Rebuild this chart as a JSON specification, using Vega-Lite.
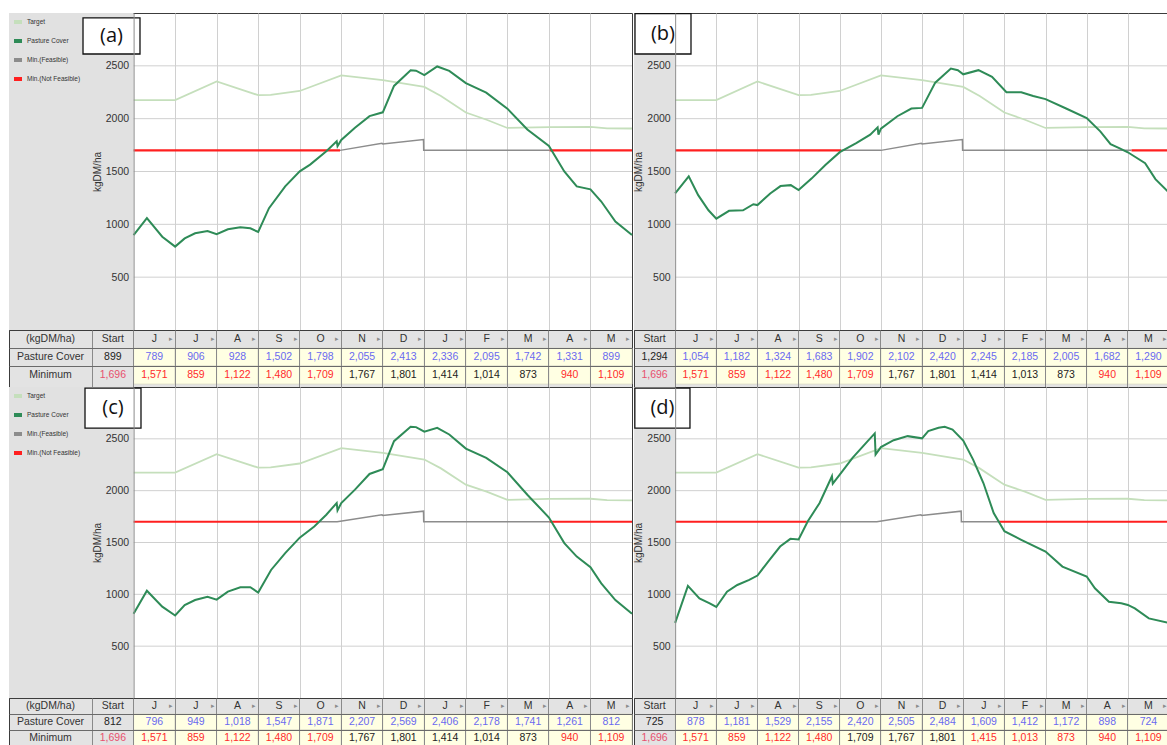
{
"$schema": "https://vega.github.io/schema/vega-lite/v6.json",
"padding": {"left": 8, "top": 12, "right": 0, "bottom": 0},
"background": "white",
"columns": 2,
"spacing": {"row": 0, "column": 2},
"bounds": "flush",
"resolve": {"scale": {"color": "independent"}, "legend": {"color": "independent"}},
"config": {"font": "Liberation Sans", "view": {"stroke": "#3c3c3c", "strokeWidth": 1}},
"datasets": {
"ygrid": [{"g":500},{"g":1000},{"g":1500},{"g":2000},{"g":2500}],
"target": [
{"s":"Target","m":0,"v":2175},{"s":"Target","m":1,"v":2175},{"s":"Target","m":2,"v":2352},{"s":"Target","m":3,"v":2222},{"s":"Target","m":3.3,"v":2225},{"s":"Target","m":4,"v":2262},{"s":"Target","m":5,"v":2410},{"s":"Target","m":6,"v":2365},{"s":"Target","m":7,"v":2300},{"s":"Target","m":7.4,"v":2215},{"s":"Target","m":8,"v":2058},{"s":"Target","m":8.5,"v":1990},{"s":"Target","m":9,"v":1912},{"s":"Target","m":10,"v":1920},{"s":"Target","m":11,"v":1922},{"s":"Target","m":11.4,"v":1908},{"s":"Target","m":12,"v":1907}],
"lines": [
{"p":"a","s":"Pasture Cover","g":"pc","m":0,"v":899},{"p":"a","s":"Pasture Cover","g":"pc","m":0.32,"v":1058},{"p":"a","s":"Pasture Cover","g":"pc","m":0.69,"v":883},{"p":"a","s":"Pasture Cover","g":"pc","m":1,"v":789},{"p":"a","s":"Pasture Cover","g":"pc","m":1.23,"v":867},{"p":"a","s":"Pasture Cover","g":"pc","m":1.48,"v":915},{"p":"a","s":"Pasture Cover","g":"pc","m":1.78,"v":937},{"p":"a","s":"Pasture Cover","g":"pc","m":2,"v":906},{"p":"a","s":"Pasture Cover","g":"pc","m":2.27,"v":953},{"p":"a","s":"Pasture Cover","g":"pc","m":2.57,"v":972},{"p":"a","s":"Pasture Cover","g":"pc","m":2.81,"v":962},{"p":"a","s":"Pasture Cover","g":"pc","m":3,"v":928},{"p":"a","s":"Pasture Cover","g":"pc","m":3.26,"v":1153},{"p":"a","s":"Pasture Cover","g":"pc","m":3.65,"v":1359},{"p":"a","s":"Pasture Cover","g":"pc","m":4,"v":1502},{"p":"a","s":"Pasture Cover","g":"pc","m":4.25,"v":1565},{"p":"a","s":"Pasture Cover","g":"pc","m":4.64,"v":1692},{"p":"a","s":"Pasture Cover","g":"pc","m":4.89,"v":1787},{"p":"a","s":"Pasture Cover","g":"pc","m":4.91,"v":1739},{"p":"a","s":"Pasture Cover","g":"pc","m":5,"v":1798},{"p":"a","s":"Pasture Cover","g":"pc","m":5.33,"v":1914},{"p":"a","s":"Pasture Cover","g":"pc","m":5.68,"v":2024},{"p":"a","s":"Pasture Cover","g":"pc","m":6,"v":2060},{"p":"a","s":"Pasture Cover","g":"pc","m":6.27,"v":2310},{"p":"a","s":"Pasture Cover","g":"pc","m":6.67,"v":2459},{"p":"a","s":"Pasture Cover","g":"pc","m":6.8,"v":2454},{"p":"a","s":"Pasture Cover","g":"pc","m":7,"v":2413},{"p":"a","s":"Pasture Cover","g":"pc","m":7.31,"v":2494},{"p":"a","s":"Pasture Cover","g":"pc","m":7.6,"v":2452},{"p":"a","s":"Pasture Cover","g":"pc","m":8,"v":2336},{"p":"a","s":"Pasture Cover","g":"pc","m":8.49,"v":2246},{"p":"a","s":"Pasture Cover","g":"pc","m":9,"v":2095},{"p":"a","s":"Pasture Cover","g":"pc","m":9.48,"v":1898},{"p":"a","s":"Pasture Cover","g":"pc","m":10,"v":1742},{"p":"a","s":"Pasture Cover","g":"pc","m":10.37,"v":1501},{"p":"a","s":"Pasture Cover","g":"pc","m":10.67,"v":1359},{"p":"a","s":"Pasture Cover","g":"pc","m":11,"v":1331},{"p":"a","s":"Pasture Cover","g":"pc","m":11.26,"v":1216},{"p":"a","s":"Pasture Cover","g":"pc","m":11.6,"v":1026},{"p":"a","s":"Pasture Cover","g":"pc","m":12,"v":899},
{"p":"a","s":"Min.(Not Feasible)","g":"n1","m":0,"v":1700},{"p":"a","s":"Min.(Not Feasible)","g":"n1","m":4.97,"v":1700},
{"p":"a","s":"Min.(Feasible)","g":"f1","m":4.97,"v":1700},{"p":"a","s":"Min.(Feasible)","g":"f1","m":5.98,"v":1767},{"p":"a","s":"Min.(Feasible)","g":"f1","m":6,"v":1761},{"p":"a","s":"Min.(Feasible)","g":"f1","m":6.98,"v":1802},{"p":"a","s":"Min.(Feasible)","g":"f1","m":6.985,"v":1700},{"p":"a","s":"Min.(Feasible)","g":"f1","m":10.02,"v":1700},
{"p":"a","s":"Min.(Not Feasible)","g":"n2","m":10.02,"v":1700},{"p":"a","s":"Min.(Not Feasible)","g":"n2","m":12,"v":1700},

{"p":"b","s":"Pasture Cover","g":"pc","m":0,"v":1294},{"p":"b","s":"Pasture Cover","g":"pc","m":0.33,"v":1455},{"p":"b","s":"Pasture Cover","g":"pc","m":0.56,"v":1276},{"p":"b","s":"Pasture Cover","g":"pc","m":0.81,"v":1133},{"p":"b","s":"Pasture Cover","g":"pc","m":1,"v":1054},{"p":"b","s":"Pasture Cover","g":"pc","m":1.31,"v":1128},{"p":"b","s":"Pasture Cover","g":"pc","m":1.65,"v":1133},{"p":"b","s":"Pasture Cover","g":"pc","m":1.9,"v":1190},{"p":"b","s":"Pasture Cover","g":"pc","m":2,"v":1182},{"p":"b","s":"Pasture Cover","g":"pc","m":2.31,"v":1292},{"p":"b","s":"Pasture Cover","g":"pc","m":2.56,"v":1362},{"p":"b","s":"Pasture Cover","g":"pc","m":2.81,"v":1371},{"p":"b","s":"Pasture Cover","g":"pc","m":3,"v":1324},{"p":"b","s":"Pasture Cover","g":"pc","m":3.32,"v":1435},{"p":"b","s":"Pasture Cover","g":"pc","m":3.65,"v":1562},{"p":"b","s":"Pasture Cover","g":"pc","m":4,"v":1683},{"p":"b","s":"Pasture Cover","g":"pc","m":4.4,"v":1769},{"p":"b","s":"Pasture Cover","g":"pc","m":4.74,"v":1848},{"p":"b","s":"Pasture Cover","g":"pc","m":4.92,"v":1918},{"p":"b","s":"Pasture Cover","g":"pc","m":4.94,"v":1848},{"p":"b","s":"Pasture Cover","g":"pc","m":5,"v":1905},{"p":"b","s":"Pasture Cover","g":"pc","m":5.4,"v":2023},{"p":"b","s":"Pasture Cover","g":"pc","m":5.74,"v":2096},{"p":"b","s":"Pasture Cover","g":"pc","m":6,"v":2102},{"p":"b","s":"Pasture Cover","g":"pc","m":6.32,"v":2341},{"p":"b","s":"Pasture Cover","g":"pc","m":6.7,"v":2475},{"p":"b","s":"Pasture Cover","g":"pc","m":6.87,"v":2459},{"p":"b","s":"Pasture Cover","g":"pc","m":7,"v":2420},{"p":"b","s":"Pasture Cover","g":"pc","m":7.37,"v":2459},{"p":"b","s":"Pasture Cover","g":"pc","m":7.7,"v":2395},{"p":"b","s":"Pasture Cover","g":"pc","m":8.05,"v":2250},{"p":"b","s":"Pasture Cover","g":"pc","m":8.41,"v":2250},{"p":"b","s":"Pasture Cover","g":"pc","m":8.7,"v":2214},{"p":"b","s":"Pasture Cover","g":"pc","m":9,"v":2185},{"p":"b","s":"Pasture Cover","g":"pc","m":9.5,"v":2096},{"p":"b","s":"Pasture Cover","g":"pc","m":10,"v":2005},{"p":"b","s":"Pasture Cover","g":"pc","m":10.33,"v":1880},{"p":"b","s":"Pasture Cover","g":"pc","m":10.58,"v":1759},{"p":"b","s":"Pasture Cover","g":"pc","m":10.79,"v":1721},{"p":"b","s":"Pasture Cover","g":"pc","m":11,"v":1682},{"p":"b","s":"Pasture Cover","g":"pc","m":11.42,"v":1578},{"p":"b","s":"Pasture Cover","g":"pc","m":11.67,"v":1428},{"p":"b","s":"Pasture Cover","g":"pc","m":12,"v":1300},
{"p":"b","s":"Min.(Not Feasible)","g":"n1","m":0,"v":1700},{"p":"b","s":"Min.(Not Feasible)","g":"n1","m":4.03,"v":1700},
{"p":"b","s":"Min.(Feasible)","g":"f1","m":4.03,"v":1700},{"p":"b","s":"Min.(Feasible)","g":"f1","m":5,"v":1700},{"p":"b","s":"Min.(Feasible)","g":"f1","m":5.98,"v":1767},{"p":"b","s":"Min.(Feasible)","g":"f1","m":6,"v":1761},{"p":"b","s":"Min.(Feasible)","g":"f1","m":6.98,"v":1802},{"p":"b","s":"Min.(Feasible)","g":"f1","m":6.985,"v":1700},{"p":"b","s":"Min.(Feasible)","g":"f1","m":11.09,"v":1700},
{"p":"b","s":"Min.(Not Feasible)","g":"n2","m":11.09,"v":1700},{"p":"b","s":"Min.(Not Feasible)","g":"n2","m":12,"v":1700},

{"p":"c","s":"Pasture Cover","g":"pc","m":0,"v":812},{"p":"c","s":"Pasture Cover","g":"pc","m":0.32,"v":1035},{"p":"c","s":"Pasture Cover","g":"pc","m":0.69,"v":881},{"p":"c","s":"Pasture Cover","g":"pc","m":1,"v":796},{"p":"c","s":"Pasture Cover","g":"pc","m":1.23,"v":897},{"p":"c","s":"Pasture Cover","g":"pc","m":1.48,"v":945},{"p":"c","s":"Pasture Cover","g":"pc","m":1.78,"v":977},{"p":"c","s":"Pasture Cover","g":"pc","m":2,"v":949},{"p":"c","s":"Pasture Cover","g":"pc","m":2.27,"v":1026},{"p":"c","s":"Pasture Cover","g":"pc","m":2.57,"v":1068},{"p":"c","s":"Pasture Cover","g":"pc","m":2.81,"v":1068},{"p":"c","s":"Pasture Cover","g":"pc","m":3,"v":1018},{"p":"c","s":"Pasture Cover","g":"pc","m":3.31,"v":1235},{"p":"c","s":"Pasture Cover","g":"pc","m":3.65,"v":1397},{"p":"c","s":"Pasture Cover","g":"pc","m":4,"v":1547},{"p":"c","s":"Pasture Cover","g":"pc","m":4.35,"v":1655},{"p":"c","s":"Pasture Cover","g":"pc","m":4.64,"v":1768},{"p":"c","s":"Pasture Cover","g":"pc","m":4.89,"v":1881},{"p":"c","s":"Pasture Cover","g":"pc","m":4.91,"v":1810},{"p":"c","s":"Pasture Cover","g":"pc","m":5,"v":1880},{"p":"c","s":"Pasture Cover","g":"pc","m":5.33,"v":2010},{"p":"c","s":"Pasture Cover","g":"pc","m":5.68,"v":2161},{"p":"c","s":"Pasture Cover","g":"pc","m":6,"v":2207},{"p":"c","s":"Pasture Cover","g":"pc","m":6.27,"v":2477},{"p":"c","s":"Pasture Cover","g":"pc","m":6.67,"v":2616},{"p":"c","s":"Pasture Cover","g":"pc","m":6.8,"v":2613},{"p":"c","s":"Pasture Cover","g":"pc","m":7,"v":2569},{"p":"c","s":"Pasture Cover","g":"pc","m":7.31,"v":2606},{"p":"c","s":"Pasture Cover","g":"pc","m":7.6,"v":2542},{"p":"c","s":"Pasture Cover","g":"pc","m":8,"v":2406},{"p":"c","s":"Pasture Cover","g":"pc","m":8.49,"v":2316},{"p":"c","s":"Pasture Cover","g":"pc","m":9,"v":2178},{"p":"c","s":"Pasture Cover","g":"pc","m":9.48,"v":1961},{"p":"c","s":"Pasture Cover","g":"pc","m":10,"v":1741},{"p":"c","s":"Pasture Cover","g":"pc","m":10.37,"v":1494},{"p":"c","s":"Pasture Cover","g":"pc","m":10.67,"v":1364},{"p":"c","s":"Pasture Cover","g":"pc","m":11,"v":1261},{"p":"c","s":"Pasture Cover","g":"pc","m":11.26,"v":1106},{"p":"c","s":"Pasture Cover","g":"pc","m":11.6,"v":945},{"p":"c","s":"Pasture Cover","g":"pc","m":12,"v":812},
{"p":"c","s":"Min.(Not Feasible)","g":"n1","m":0,"v":1700},{"p":"c","s":"Min.(Not Feasible)","g":"n1","m":4.45,"v":1700},
{"p":"c","s":"Min.(Feasible)","g":"f1","m":4.45,"v":1700},{"p":"c","s":"Min.(Feasible)","g":"f1","m":4.9,"v":1700},{"p":"c","s":"Min.(Feasible)","g":"f1","m":5.98,"v":1767},{"p":"c","s":"Min.(Feasible)","g":"f1","m":6,"v":1761},{"p":"c","s":"Min.(Feasible)","g":"f1","m":6.98,"v":1802},{"p":"c","s":"Min.(Feasible)","g":"f1","m":6.985,"v":1700},{"p":"c","s":"Min.(Feasible)","g":"f1","m":10.02,"v":1700},
{"p":"c","s":"Min.(Not Feasible)","g":"n2","m":10.02,"v":1700},{"p":"c","s":"Min.(Not Feasible)","g":"n2","m":12,"v":1700},

{"p":"d","s":"Pasture Cover","g":"pc","m":0,"v":725},{"p":"d","s":"Pasture Cover","g":"pc","m":0.31,"v":1081},{"p":"d","s":"Pasture Cover","g":"pc","m":0.59,"v":961},{"p":"d","s":"Pasture Cover","g":"pc","m":0.84,"v":913},{"p":"d","s":"Pasture Cover","g":"pc","m":1,"v":878},{"p":"d","s":"Pasture Cover","g":"pc","m":1.26,"v":1026},{"p":"d","s":"Pasture Cover","g":"pc","m":1.51,"v":1090},{"p":"d","s":"Pasture Cover","g":"pc","m":1.8,"v":1139},{"p":"d","s":"Pasture Cover","g":"pc","m":2,"v":1181},{"p":"d","s":"Pasture Cover","g":"pc","m":2.26,"v":1316},{"p":"d","s":"Pasture Cover","g":"pc","m":2.55,"v":1461},{"p":"d","s":"Pasture Cover","g":"pc","m":2.8,"v":1535},{"p":"d","s":"Pasture Cover","g":"pc","m":3,"v":1529},{"p":"d","s":"Pasture Cover","g":"pc","m":3.22,"v":1703},{"p":"d","s":"Pasture Cover","g":"pc","m":3.51,"v":1881},{"p":"d","s":"Pasture Cover","g":"pc","m":3.81,"v":2139},{"p":"d","s":"Pasture Cover","g":"pc","m":3.83,"v":2068},{"p":"d","s":"Pasture Cover","g":"pc","m":4,"v":2155},{"p":"d","s":"Pasture Cover","g":"pc","m":4.31,"v":2316},{"p":"d","s":"Pasture Cover","g":"pc","m":4.64,"v":2461},{"p":"d","s":"Pasture Cover","g":"pc","m":4.85,"v":2552},{"p":"d","s":"Pasture Cover","g":"pc","m":4.87,"v":2348},{"p":"d","s":"Pasture Cover","g":"pc","m":5,"v":2420},{"p":"d","s":"Pasture Cover","g":"pc","m":5.31,"v":2487},{"p":"d","s":"Pasture Cover","g":"pc","m":5.65,"v":2526},{"p":"d","s":"Pasture Cover","g":"pc","m":6,"v":2505},{"p":"d","s":"Pasture Cover","g":"pc","m":6.15,"v":2574},{"p":"d","s":"Pasture Cover","g":"pc","m":6.4,"v":2606},{"p":"d","s":"Pasture Cover","g":"pc","m":6.55,"v":2616},{"p":"d","s":"Pasture Cover","g":"pc","m":6.74,"v":2590},{"p":"d","s":"Pasture Cover","g":"pc","m":7,"v":2484},{"p":"d","s":"Pasture Cover","g":"pc","m":7.24,"v":2300},{"p":"d","s":"Pasture Cover","g":"pc","m":7.49,"v":2074},{"p":"d","s":"Pasture Cover","g":"pc","m":7.74,"v":1784},{"p":"d","s":"Pasture Cover","g":"pc","m":8,"v":1609},{"p":"d","s":"Pasture Cover","g":"pc","m":8.41,"v":1526},{"p":"d","s":"Pasture Cover","g":"pc","m":9,"v":1412},{"p":"d","s":"Pasture Cover","g":"pc","m":9.41,"v":1268},{"p":"d","s":"Pasture Cover","g":"pc","m":10,"v":1172},{"p":"d","s":"Pasture Cover","g":"pc","m":10.2,"v":1058},{"p":"d","s":"Pasture Cover","g":"pc","m":10.54,"v":929},{"p":"d","s":"Pasture Cover","g":"pc","m":10.84,"v":913},{"p":"d","s":"Pasture Cover","g":"pc","m":11,"v":898},{"p":"d","s":"Pasture Cover","g":"pc","m":11.17,"v":864},{"p":"d","s":"Pasture Cover","g":"pc","m":11.51,"v":768},{"p":"d","s":"Pasture Cover","g":"pc","m":12,"v":724},
{"p":"d","s":"Min.(Not Feasible)","g":"n1","m":0,"v":1700},{"p":"d","s":"Min.(Not Feasible)","g":"n1","m":3.2,"v":1700},
{"p":"d","s":"Min.(Feasible)","g":"f1","m":3.2,"v":1700},{"p":"d","s":"Min.(Feasible)","g":"f1","m":4.9,"v":1700},{"p":"d","s":"Min.(Feasible)","g":"f1","m":5.97,"v":1767},{"p":"d","s":"Min.(Feasible)","g":"f1","m":5.99,"v":1761},{"p":"d","s":"Min.(Feasible)","g":"f1","m":6.95,"v":1802},{"p":"d","s":"Min.(Feasible)","g":"f1","m":6.955,"v":1700},{"p":"d","s":"Min.(Feasible)","g":"f1","m":7.87,"v":1700},
{"p":"d","s":"Min.(Not Feasible)","g":"n2","m":7.87,"v":1700},{"p":"d","s":"Min.(Not Feasible)","g":"n2","m":12,"v":1700}
],
"cells": [
{"p":"a","col":"S","pc":899,"min":1696,"ok":false},{"p":"a","col":"m1","pc":789,"min":1571,"ok":false},{"p":"a","col":"m2","pc":906,"min":859,"ok":false},{"p":"a","col":"m3","pc":928,"min":1122,"ok":false},{"p":"a","col":"m4","pc":1502,"min":1480,"ok":false},{"p":"a","col":"m5","pc":1798,"min":1709,"ok":false},{"p":"a","col":"m6","pc":2055,"min":1767,"ok":true},{"p":"a","col":"m7","pc":2413,"min":1801,"ok":true},{"p":"a","col":"m8","pc":2336,"min":1414,"ok":true},{"p":"a","col":"m9","pc":2095,"min":1014,"ok":true},{"p":"a","col":"m10","pc":1742,"min":873,"ok":true},{"p":"a","col":"m11","pc":1331,"min":940,"ok":false},{"p":"a","col":"m12","pc":899,"min":1109,"ok":false},
{"p":"b","col":"S","pc":1294,"min":1696,"ok":false},{"p":"b","col":"m1","pc":1054,"min":1571,"ok":false},{"p":"b","col":"m2","pc":1182,"min":859,"ok":false},{"p":"b","col":"m3","pc":1324,"min":1122,"ok":false},{"p":"b","col":"m4","pc":1683,"min":1480,"ok":false},{"p":"b","col":"m5","pc":1902,"min":1709,"ok":false},{"p":"b","col":"m6","pc":2102,"min":1767,"ok":true},{"p":"b","col":"m7","pc":2420,"min":1801,"ok":true},{"p":"b","col":"m8","pc":2245,"min":1414,"ok":true},{"p":"b","col":"m9","pc":2185,"min":1013,"ok":true},{"p":"b","col":"m10","pc":2005,"min":873,"ok":true},{"p":"b","col":"m11","pc":1682,"min":940,"ok":false},{"p":"b","col":"m12","pc":1290,"min":1109,"ok":false},
{"p":"c","col":"S","pc":812,"min":1696,"ok":false},{"p":"c","col":"m1","pc":796,"min":1571,"ok":false},{"p":"c","col":"m2","pc":949,"min":859,"ok":false},{"p":"c","col":"m3","pc":1018,"min":1122,"ok":false},{"p":"c","col":"m4","pc":1547,"min":1480,"ok":false},{"p":"c","col":"m5","pc":1871,"min":1709,"ok":false},{"p":"c","col":"m6","pc":2207,"min":1767,"ok":true},{"p":"c","col":"m7","pc":2569,"min":1801,"ok":true},{"p":"c","col":"m8","pc":2406,"min":1414,"ok":true},{"p":"c","col":"m9","pc":2178,"min":1014,"ok":true},{"p":"c","col":"m10","pc":1741,"min":873,"ok":true},{"p":"c","col":"m11","pc":1261,"min":940,"ok":false},{"p":"c","col":"m12","pc":812,"min":1109,"ok":false},
{"p":"d","col":"S","pc":725,"min":1696,"ok":false},{"p":"d","col":"m1","pc":878,"min":1571,"ok":false},{"p":"d","col":"m2","pc":1181,"min":859,"ok":false},{"p":"d","col":"m3","pc":1529,"min":1122,"ok":false},{"p":"d","col":"m4","pc":2155,"min":1480,"ok":false},{"p":"d","col":"m5","pc":2420,"min":1709,"ok":true},{"p":"d","col":"m6","pc":2505,"min":1767,"ok":true},{"p":"d","col":"m7","pc":2484,"min":1801,"ok":true},{"p":"d","col":"m8","pc":1609,"min":1415,"ok":false},{"p":"d","col":"m9","pc":1412,"min":1013,"ok":false},{"p":"d","col":"m10","pc":1172,"min":873,"ok":false},{"p":"d","col":"m11","pc":898,"min":940,"ok":false},{"p":"d","col":"m12","pc":724,"min":1109,"ok":false}
],
"hdr": [{"col":"S","r":"h","t":"Start"},{"col":"m1","r":"h","t":"J"},{"col":"m2","r":"h","t":"J"},{"col":"m3","r":"h","t":"A"},{"col":"m4","r":"h","t":"S"},{"col":"m5","r":"h","t":"O"},{"col":"m6","r":"h","t":"N"},{"col":"m7","r":"h","t":"D"},{"col":"m8","r":"h","t":"J"},{"col":"m9","r":"h","t":"F"},{"col":"m10","r":"h","t":"M"},{"col":"m11","r":"h","t":"A"},{"col":"m12","r":"h","t":"M"}],
"rowlab": [{"col":"L2","r":"h","t":"(kgDM/ha)"},{"col":"L2","r":"pc","t":"Pasture Cover"},{"col":"L2","r":"min","t":"Minimum"}]
},
"concat": [
{
"width": 623, "height": 317,
"view": {"fill": "white", "stroke": "#3c3c3c"},
"layer": [
{"data": {"values": [{"k": "labels"}]}, "mark": {"type": "rect", "fill": "#e1e1e1"},
 "encoding": {"x": {"datum": -3, "type": "quantitative", "scale": {"domain": [-3, 12], "nice": false, "zero": false}, "axis": {"orient": "bottom", "values": [1,2,3,4,5,6,7,8,9,10,11], "grid": true, "gridColor": "#d0d0d0", "labels": false, "ticks": false, "domain": false, "title": null, "zindex": 0}}, "x2": {"datum": 0}}},
{"data": {"name": "ygrid"}, "mark": {"type": "rule", "stroke": "#d0d0d0", "strokeWidth": 1},
 "encoding": {"x": {"datum": 0, "type": "quantitative"}, "x2": {"datum": 12},
  "y": {"field": "g", "type": "quantitative", "scale": {"domain": [0, 3000], "nice": false, "zero": false}, "axis": {"orient": "left", "offset": -124.6, "values": [500,1000,1500,2000,2500], "format": "d", "grid": false, "ticks": false, "domainColor": "#8c8c8c", "labelPadding": 5, "labelFontSize": 10.5, "labelColor": "#333", "title": "kgDM/ha", "titleFontSize": 10, "titleFontWeight": "normal", "titleColor": "#333", "titlePadding": 3, "zindex": 1}}}},
{"data": {"name": "target"}, "mark": {"type": "line", "strokeWidth": 1.8},
 "encoding": {"x": {"field": "m", "type": "quantitative"}, "y": {"field": "v", "type": "quantitative"}, "order": {"value": null},
  "color": {"field": "s", "type": "nominal", "scale": {"domain": ["Target","Pasture Cover","Min.(Feasible)","Min.(Not Feasible)"], "range": ["#c5dfbc","#2e8b57","#8c8c8c","#ff1f1f"]}, "legend": {"orient": "none", "legendX": 3, "legendY": 3, "direction": "vertical", "title": null, "symbolType": "stroke", "symbolStrokeWidth": 4, "symbolSize": 64, "labelFontSize": 6.5, "labelColor": "#333", "labelOffset": 3, "rowPadding": 3, "padding": 0}}}},
{"data": {"name": "lines"}, "transform": [{"filter": "datum.p == 'a' && datum.s == 'Min.(Feasible)'"}], "mark": {"type": "line", "strokeWidth": 1.5},
 "encoding": {"x": {"field": "m", "type": "quantitative"}, "y": {"field": "v", "type": "quantitative"}, "order": {"value": null}, "detail": {"field": "g"}, "color": {"field": "s", "type": "nominal"}}},
{"data": {"name": "lines"}, "transform": [{"filter": "datum.p == 'a' && datum.s == 'Min.(Not Feasible)'"}], "mark": {"type": "line", "strokeWidth": 2.2},
 "encoding": {"x": {"field": "m", "type": "quantitative"}, "y": {"field": "v", "type": "quantitative"}, "order": {"value": null}, "detail": {"field": "g"}, "color": {"field": "s", "type": "nominal"}}},
{"data": {"name": "lines"}, "transform": [{"filter": "datum.p == 'a' && datum.s == 'Pasture Cover'"}], "mark": {"type": "line", "strokeWidth": 2},
 "encoding": {"x": {"field": "m", "type": "quantitative"}, "y": {"field": "v", "type": "quantitative"}, "order": {"value": null}, "color": {"field": "s", "type": "nominal"}}},
{"data": {"values": [{"t": "(a)"}]}, "mark": {"type": "rect", "fill": "white", "stroke": "#111", "strokeWidth": 1.3},
 "encoding": {"x": {"datum": -1.218, "type": "quantitative"}, "x2": {"datum": 0.154}, "y": {"datum": 2953, "type": "quantitative"}, "y2": {"datum": 2612}}},
{"data": {"values": [{"t": "(a)"}]}, "mark": {"type": "text", "font": "Open Sans", "fontSize": 20, "color": "#111"},
 "encoding": {"x": {"datum": -0.532, "type": "quantitative"}, "y": {"datum": 2782, "type": "quantitative"}, "text": {"field": "t"}}}
]
},
{
"width": 535, "height": 317,
"view": {"fill": "white", "stroke": "#3c3c3c"},
"layer": [
{"data": {"values": [{"k": "labels"}]}, "mark": {"type": "rect", "fill": "#e1e1e1"},
 "encoding": {"x": {"datum": -1, "type": "quantitative", "scale": {"domain": [-1, 12], "nice": false, "zero": false}, "axis": {"orient": "bottom", "values": [1,2,3,4,5,6,7,8,9,10,11], "grid": true, "gridColor": "#d0d0d0", "labels": false, "ticks": false, "domain": false, "title": null, "zindex": 0}}, "x2": {"datum": 0}}},
{"data": {"name": "ygrid"}, "mark": {"type": "rule", "stroke": "#d0d0d0", "strokeWidth": 1},
 "encoding": {"x": {"datum": 0, "type": "quantitative"}, "x2": {"datum": 12},
  "y": {"field": "g", "type": "quantitative", "scale": {"domain": [0, 3000], "nice": false, "zero": false}, "axis": {"orient": "left", "offset": -41.15, "values": [500,1000,1500,2000,2500], "format": "d", "grid": false, "ticks": false, "domainColor": "#8c8c8c", "labelPadding": 5, "labelFontSize": 10.5, "labelColor": "#333", "title": "kgDM/ha", "titleFontSize": 10, "titleFontWeight": "normal", "titleColor": "#333", "titlePadding": 3, "zindex": 1}}}},
{"data": {"name": "target"}, "mark": {"type": "line", "strokeWidth": 1.8},
 "encoding": {"x": {"field": "m", "type": "quantitative"}, "y": {"field": "v", "type": "quantitative"}, "order": {"value": null},
  "color": {"field": "s", "type": "nominal", "scale": {"domain": ["Target","Pasture Cover","Min.(Feasible)","Min.(Not Feasible)"], "range": ["#c5dfbc","#2e8b57","#8c8c8c","#ff1f1f"]}, "legend": null}}},
{"data": {"name": "lines"}, "transform": [{"filter": "datum.p == 'b' && datum.s == 'Min.(Feasible)'"}], "mark": {"type": "line", "strokeWidth": 1.5},
 "encoding": {"x": {"field": "m", "type": "quantitative"}, "y": {"field": "v", "type": "quantitative"}, "order": {"value": null}, "detail": {"field": "g"}, "color": {"field": "s", "type": "nominal", "legend": null}}},
{"data": {"name": "lines"}, "transform": [{"filter": "datum.p == 'b' && datum.s == 'Min.(Not Feasible)'"}], "mark": {"type": "line", "strokeWidth": 2.2},
 "encoding": {"x": {"field": "m", "type": "quantitative"}, "y": {"field": "v", "type": "quantitative"}, "order": {"value": null}, "detail": {"field": "g"}, "color": {"field": "s", "type": "nominal", "legend": null}}},
{"data": {"name": "lines"}, "transform": [{"filter": "datum.p == 'b' && datum.s == 'Pasture Cover'"}], "mark": {"type": "line", "strokeWidth": 2},
 "encoding": {"x": {"field": "m", "type": "quantitative"}, "y": {"field": "v", "type": "quantitative"}, "order": {"value": null}, "color": {"field": "s", "type": "nominal", "legend": null}}},
{"data": {"values": [{"t": "(b)"}]}, "mark": {"type": "rect", "fill": "white", "stroke": "#111", "strokeWidth": 1.3},
 "encoding": {"x": {"datum": -0.976, "type": "quantitative"}, "x2": {"datum": 0.385}, "y": {"datum": 2995, "type": "quantitative"}, "y2": {"datum": 2612}}},
{"data": {"values": [{"t": "(b)"}]}, "mark": {"type": "text", "font": "Open Sans", "fontSize": 20, "color": "#111"},
 "encoding": {"x": {"datum": -0.296, "type": "quantitative"}, "y": {"datum": 2803, "type": "quantitative"}, "text": {"field": "t"}}}
]
},
{
"width": 623, "height": 57,
"view": {"fill": "#e3e3e3", "stroke": "#3c3c3c"},
"layer": [
{"data": {"name": "cells"}, "transform": [{"filter": "datum.p == 'a' && datum.col != 'S'"}, {"fold": ["pc", "min"], "as": ["r", "val"]}],
 "mark": {"type": "rect", "fill": "#ffffe3", "stroke": "#d9d9c6", "strokeWidth": 0.8},
 "encoding": {
  "x": {"field": "col", "type": "nominal", "scale": {"type": "band", "domain": ["L1","L2","S","m1","m2","m3","m4","m5","m6","m7","m8","m9","m10","m11","m12"], "paddingInner": 0, "paddingOuter": 0}, "axis": {"orient": "top", "bandPosition": 0, "values": ["S","m1","m2","m3","m4","m5","m6","m7","m8","m9","m10","m11","m12"], "grid": true, "gridColor": "#8a8a8a", "labels": false, "ticks": false, "domain": false, "title": null}},
  "y": {"field": "r", "type": "nominal", "scale": {"type": "band", "domain": ["h","pc","min"], "paddingInner": 0, "paddingOuter": 0.08, "align": 0}, "axis": {"bandPosition": 0, "values": ["pc","min"], "grid": true, "gridColor": "#6a6a6a", "labels": false, "ticks": false, "domain": false, "title": null}}}},
{"data": {"name": "hdr"}, "mark": {"type": "text", "fontSize": 10.5, "color": "#333"},
 "encoding": {"x": {"field": "col", "type": "nominal"}, "y": {"field": "r", "type": "nominal"}, "text": {"field": "t"}}},
{"data": {"name": "hdr"}, "transform": [{"filter": "datum.col != 'S'"}], "mark": {"type": "text", "text": "▸", "fontSize": 7, "color": "#8c8c8c", "align": "right", "dx": -2},
 "encoding": {"x": {"field": "col", "type": "nominal", "bandPosition": 1}, "y": {"field": "r", "type": "nominal"}}},
{"data": {"name": "rowlab"}, "mark": {"type": "text", "fontSize": 10.5, "color": "#333"},
 "encoding": {"x": {"field": "col", "type": "nominal", "bandPosition": 0}, "y": {"field": "r", "type": "nominal"}, "text": {"field": "t"}}},
{"data": {"name": "cells"}, "transform": [{"filter": "datum.p == 'a'"}, {"fold": ["pc", "min"], "as": ["r", "val"]}],
 "mark": {"type": "text", "fontSize": 10.5},
 "encoding": {"x": {"field": "col", "type": "nominal"}, "y": {"field": "r", "type": "nominal"}, "text": {"field": "val", "type": "quantitative", "format": ","},
  "color": {"condition": [{"test": "datum.col == 'S' && datum.r == 'pc'", "value": "#222"}, {"test": "datum.col == 'S'", "value": "#e8506e"}, {"test": "datum.r == 'pc'", "value": "#6a6af0"}, {"test": "datum.ok", "value": "#222"}], "value": "#ff2b2b"}}}
]
},
{
"width": 535, "height": 57,
"view": {"fill": "#e3e3e3", "stroke": "#3c3c3c"},
"layer": [
{"data": {"name": "cells"}, "transform": [{"filter": "datum.p == 'b' && datum.col != 'S'"}, {"fold": ["pc", "min"], "as": ["r", "val"]}],
 "mark": {"type": "rect", "fill": "#ffffe3", "stroke": "#d9d9c6", "strokeWidth": 0.8},
 "encoding": {
  "x": {"field": "col", "type": "nominal", "scale": {"type": "band", "domain": ["S","m1","m2","m3","m4","m5","m6","m7","m8","m9","m10","m11","m12"], "paddingInner": 0, "paddingOuter": 0}, "axis": {"orient": "top", "bandPosition": 0, "values": ["m1","m2","m3","m4","m5","m6","m7","m8","m9","m10","m11","m12"], "grid": true, "gridColor": "#8a8a8a", "labels": false, "ticks": false, "domain": false, "title": null}},
  "y": {"field": "r", "type": "nominal", "scale": {"type": "band", "domain": ["h","pc","min"], "paddingInner": 0, "paddingOuter": 0.08, "align": 0}, "axis": {"bandPosition": 0, "values": ["pc","min"], "grid": true, "gridColor": "#6a6a6a", "labels": false, "ticks": false, "domain": false, "title": null}}}},
{"data": {"name": "hdr"}, "mark": {"type": "text", "fontSize": 10.5, "color": "#333"},
 "encoding": {"x": {"field": "col", "type": "nominal"}, "y": {"field": "r", "type": "nominal"}, "text": {"field": "t"}}},
{"data": {"name": "hdr"}, "transform": [{"filter": "datum.col != 'S'"}], "mark": {"type": "text", "text": "▸", "fontSize": 7, "color": "#8c8c8c", "align": "right", "dx": -2},
 "encoding": {"x": {"field": "col", "type": "nominal", "bandPosition": 1}, "y": {"field": "r", "type": "nominal"}}},
{"data": {"name": "cells"}, "transform": [{"filter": "datum.p == 'b'"}, {"fold": ["pc", "min"], "as": ["r", "val"]}],
 "mark": {"type": "text", "fontSize": 10.5},
 "encoding": {"x": {"field": "col", "type": "nominal"}, "y": {"field": "r", "type": "nominal"}, "text": {"field": "val", "type": "quantitative", "format": ","},
  "color": {"condition": [{"test": "datum.col == 'S' && datum.r == 'pc'", "value": "#222"}, {"test": "datum.col == 'S'", "value": "#e8506e"}, {"test": "datum.r == 'pc'", "value": "#6a6af0"}, {"test": "datum.ok", "value": "#222"}], "value": "#ff2b2b"}}}
]
},
{
"width": 623, "height": 311,
"view": {"fill": "white", "stroke": "#3c3c3c"},
"layer": [
{"data": {"values": [{"k": "labels"}]}, "mark": {"type": "rect", "fill": "#e1e1e1"},
 "encoding": {"x": {"datum": -3, "type": "quantitative", "scale": {"domain": [-3, 12], "nice": false, "zero": false}, "axis": {"orient": "bottom", "values": [1,2,3,4,5,6,7,8,9,10,11], "grid": true, "gridColor": "#d0d0d0", "labels": false, "ticks": false, "domain": false, "title": null, "zindex": 0}}, "x2": {"datum": 0}}},
{"data": {"name": "ygrid"}, "mark": {"type": "rule", "stroke": "#d0d0d0", "strokeWidth": 1},
 "encoding": {"x": {"datum": 0, "type": "quantitative"}, "x2": {"datum": 12},
  "y": {"field": "g", "type": "quantitative", "scale": {"domain": [0, 3000], "nice": false, "zero": false}, "axis": {"orient": "left", "offset": -124.6, "values": [500,1000,1500,2000,2500], "format": "d", "grid": false, "ticks": false, "domainColor": "#8c8c8c", "labelPadding": 5, "labelFontSize": 10.5, "labelColor": "#333", "title": "kgDM/ha", "titleFontSize": 10, "titleFontWeight": "normal", "titleColor": "#333", "titlePadding": 3, "zindex": 1}}}},
{"data": {"name": "target"}, "mark": {"type": "line", "strokeWidth": 1.8},
 "encoding": {"x": {"field": "m", "type": "quantitative"}, "y": {"field": "v", "type": "quantitative"}, "order": {"value": null},
  "color": {"field": "s", "type": "nominal", "scale": {"domain": ["Target","Pasture Cover","Min.(Feasible)","Min.(Not Feasible)"], "range": ["#c5dfbc","#2e8b57","#8c8c8c","#ff1f1f"]}, "legend": {"orient": "none", "legendX": 3, "legendY": 3, "direction": "vertical", "title": null, "symbolType": "stroke", "symbolStrokeWidth": 4, "symbolSize": 64, "labelFontSize": 6.5, "labelColor": "#333", "labelOffset": 3, "rowPadding": 3, "padding": 0}}}},
{"data": {"name": "lines"}, "transform": [{"filter": "datum.p == 'c' && datum.s == 'Min.(Feasible)'"}], "mark": {"type": "line", "strokeWidth": 1.5},
 "encoding": {"x": {"field": "m", "type": "quantitative"}, "y": {"field": "v", "type": "quantitative"}, "order": {"value": null}, "detail": {"field": "g"}, "color": {"field": "s", "type": "nominal"}}},
{"data": {"name": "lines"}, "transform": [{"filter": "datum.p == 'c' && datum.s == 'Min.(Not Feasible)'"}], "mark": {"type": "line", "strokeWidth": 2.2},
 "encoding": {"x": {"field": "m", "type": "quantitative"}, "y": {"field": "v", "type": "quantitative"}, "order": {"value": null}, "detail": {"field": "g"}, "color": {"field": "s", "type": "nominal"}}},
{"data": {"name": "lines"}, "transform": [{"filter": "datum.p == 'c' && datum.s == 'Pasture Cover'"}], "mark": {"type": "line", "strokeWidth": 2},
 "encoding": {"x": {"field": "m", "type": "quantitative"}, "y": {"field": "v", "type": "quantitative"}, "order": {"value": null}, "color": {"field": "s", "type": "nominal"}}},
{"data": {"values": [{"t": "(c)"}]}, "mark": {"type": "rect", "fill": "white", "stroke": "#111", "strokeWidth": 1.3},
 "encoding": {"x": {"datum": -1.17, "type": "quantitative"}, "x2": {"datum": 0.178}, "y": {"datum": 2990, "type": "quantitative"}, "y2": {"datum": 2604}}},
{"data": {"values": [{"t": "(c)"}]}, "mark": {"type": "text", "font": "Open Sans", "fontSize": 20, "color": "#111"},
 "encoding": {"x": {"datum": -0.496, "type": "quantitative"}, "y": {"datum": 2797, "type": "quantitative"}, "text": {"field": "t"}}}
]
},
{
"width": 535, "height": 311,
"view": {"fill": "white", "stroke": "#3c3c3c"},
"layer": [
{"data": {"values": [{"k": "labels"}]}, "mark": {"type": "rect", "fill": "#e1e1e1"},
 "encoding": {"x": {"datum": -1, "type": "quantitative", "scale": {"domain": [-1, 12], "nice": false, "zero": false}, "axis": {"orient": "bottom", "values": [1,2,3,4,5,6,7,8,9,10,11], "grid": true, "gridColor": "#d0d0d0", "labels": false, "ticks": false, "domain": false, "title": null, "zindex": 0}}, "x2": {"datum": 0}}},
{"data": {"name": "ygrid"}, "mark": {"type": "rule", "stroke": "#d0d0d0", "strokeWidth": 1},
 "encoding": {"x": {"datum": 0, "type": "quantitative"}, "x2": {"datum": 12},
  "y": {"field": "g", "type": "quantitative", "scale": {"domain": [0, 3000], "nice": false, "zero": false}, "axis": {"orient": "left", "offset": -41.15, "values": [500,1000,1500,2000,2500], "format": "d", "grid": false, "ticks": false, "domainColor": "#8c8c8c", "labelPadding": 5, "labelFontSize": 10.5, "labelColor": "#333", "title": "kgDM/ha", "titleFontSize": 10, "titleFontWeight": "normal", "titleColor": "#333", "titlePadding": 3, "zindex": 1}}}},
{"data": {"name": "target"}, "mark": {"type": "line", "strokeWidth": 1.8},
 "encoding": {"x": {"field": "m", "type": "quantitative"}, "y": {"field": "v", "type": "quantitative"}, "order": {"value": null},
  "color": {"field": "s", "type": "nominal", "scale": {"domain": ["Target","Pasture Cover","Min.(Feasible)","Min.(Not Feasible)"], "range": ["#c5dfbc","#2e8b57","#8c8c8c","#ff1f1f"]}, "legend": null}}},
{"data": {"name": "lines"}, "transform": [{"filter": "datum.p == 'd' && datum.s == 'Min.(Feasible)'"}], "mark": {"type": "line", "strokeWidth": 1.5},
 "encoding": {"x": {"field": "m", "type": "quantitative"}, "y": {"field": "v", "type": "quantitative"}, "order": {"value": null}, "detail": {"field": "g"}, "color": {"field": "s", "type": "nominal", "legend": null}}},
{"data": {"name": "lines"}, "transform": [{"filter": "datum.p == 'd' && datum.s == 'Min.(Not Feasible)'"}], "mark": {"type": "line", "strokeWidth": 2.2},
 "encoding": {"x": {"field": "m", "type": "quantitative"}, "y": {"field": "v", "type": "quantitative"}, "order": {"value": null}, "detail": {"field": "g"}, "color": {"field": "s", "type": "nominal", "legend": null}}},
{"data": {"name": "lines"}, "transform": [{"filter": "datum.p == 'd' && datum.s == 'Pasture Cover'"}], "mark": {"type": "line", "strokeWidth": 2},
 "encoding": {"x": {"field": "m", "type": "quantitative"}, "y": {"field": "v", "type": "quantitative"}, "order": {"value": null}, "color": {"field": "s", "type": "nominal", "legend": null}}},
{"data": {"values": [{"t": "(d)"}]}, "mark": {"type": "rect", "fill": "white", "stroke": "#111", "strokeWidth": 1.3},
 "encoding": {"x": {"datum": -0.98, "type": "quantitative"}, "x2": {"datum": 0.36}, "y": {"datum": 2990, "type": "quantitative"}, "y2": {"datum": 2604}}},
{"data": {"values": [{"t": "(d)"}]}, "mark": {"type": "text", "font": "Open Sans", "fontSize": 20, "color": "#111"},
 "encoding": {"x": {"datum": -0.31, "type": "quantitative"}, "y": {"datum": 2797, "type": "quantitative"}, "text": {"field": "t"}}}
]
},
{
"width": 623, "height": 48,
"view": {"fill": "#e3e3e3", "stroke": "#3c3c3c"},
"layer": [
{"data": {"name": "cells"}, "transform": [{"filter": "datum.p == 'c' && datum.col != 'S'"}, {"fold": ["pc", "min"], "as": ["r", "val"]}],
 "mark": {"type": "rect", "fill": "#ffffe3", "stroke": "#d9d9c6", "strokeWidth": 0.8},
 "encoding": {
  "x": {"field": "col", "type": "nominal", "scale": {"type": "band", "domain": ["L1","L2","S","m1","m2","m3","m4","m5","m6","m7","m8","m9","m10","m11","m12"], "paddingInner": 0, "paddingOuter": 0}, "axis": {"orient": "top", "bandPosition": 0, "values": ["S","m1","m2","m3","m4","m5","m6","m7","m8","m9","m10","m11","m12"], "grid": true, "gridColor": "#8a8a8a", "labels": false, "ticks": false, "domain": false, "title": null}},
  "y": {"field": "r", "type": "nominal", "scale": {"type": "band", "domain": ["h","pc","min"], "paddingInner": 0, "paddingOuter": 0}, "axis": {"bandPosition": 0, "values": ["pc","min"], "grid": true, "gridColor": "#6a6a6a", "labels": false, "ticks": false, "domain": false, "title": null}}}},
{"data": {"name": "hdr"}, "mark": {"type": "text", "fontSize": 10.5, "color": "#333"},
 "encoding": {"x": {"field": "col", "type": "nominal"}, "y": {"field": "r", "type": "nominal"}, "text": {"field": "t"}}},
{"data": {"name": "hdr"}, "transform": [{"filter": "datum.col != 'S'"}], "mark": {"type": "text", "text": "▸", "fontSize": 7, "color": "#8c8c8c", "align": "right", "dx": -2},
 "encoding": {"x": {"field": "col", "type": "nominal", "bandPosition": 1}, "y": {"field": "r", "type": "nominal"}}},
{"data": {"name": "rowlab"}, "mark": {"type": "text", "fontSize": 10.5, "color": "#333"},
 "encoding": {"x": {"field": "col", "type": "nominal", "bandPosition": 0}, "y": {"field": "r", "type": "nominal"}, "text": {"field": "t"}}},
{"data": {"name": "cells"}, "transform": [{"filter": "datum.p == 'c'"}, {"fold": ["pc", "min"], "as": ["r", "val"]}],
 "mark": {"type": "text", "fontSize": 10.5},
 "encoding": {"x": {"field": "col", "type": "nominal"}, "y": {"field": "r", "type": "nominal"}, "text": {"field": "val", "type": "quantitative", "format": ","},
  "color": {"condition": [{"test": "datum.col == 'S' && datum.r == 'pc'", "value": "#222"}, {"test": "datum.col == 'S'", "value": "#e8506e"}, {"test": "datum.r == 'pc'", "value": "#6a6af0"}, {"test": "datum.ok", "value": "#222"}], "value": "#ff2b2b"}}}
]
},
{
"width": 535, "height": 48,
"view": {"fill": "#e3e3e3", "stroke": "#3c3c3c"},
"layer": [
{"data": {"name": "cells"}, "transform": [{"filter": "datum.p == 'd' && datum.col != 'S'"}, {"fold": ["pc", "min"], "as": ["r", "val"]}],
 "mark": {"type": "rect", "fill": "#ffffe3", "stroke": "#d9d9c6", "strokeWidth": 0.8},
 "encoding": {
  "x": {"field": "col", "type": "nominal", "scale": {"type": "band", "domain": ["S","m1","m2","m3","m4","m5","m6","m7","m8","m9","m10","m11","m12"], "paddingInner": 0, "paddingOuter": 0}, "axis": {"orient": "top", "bandPosition": 0, "values": ["m1","m2","m3","m4","m5","m6","m7","m8","m9","m10","m11","m12"], "grid": true, "gridColor": "#8a8a8a", "labels": false, "ticks": false, "domain": false, "title": null}},
  "y": {"field": "r", "type": "nominal", "scale": {"type": "band", "domain": ["h","pc","min"], "paddingInner": 0, "paddingOuter": 0}, "axis": {"bandPosition": 0, "values": ["pc","min"], "grid": true, "gridColor": "#6a6a6a", "labels": false, "ticks": false, "domain": false, "title": null}}}},
{"data": {"name": "hdr"}, "mark": {"type": "text", "fontSize": 10.5, "color": "#333"},
 "encoding": {"x": {"field": "col", "type": "nominal"}, "y": {"field": "r", "type": "nominal"}, "text": {"field": "t"}}},
{"data": {"name": "hdr"}, "transform": [{"filter": "datum.col != 'S'"}], "mark": {"type": "text", "text": "▸", "fontSize": 7, "color": "#8c8c8c", "align": "right", "dx": -2},
 "encoding": {"x": {"field": "col", "type": "nominal", "bandPosition": 1}, "y": {"field": "r", "type": "nominal"}}},
{"data": {"name": "cells"}, "transform": [{"filter": "datum.p == 'd'"}, {"fold": ["pc", "min"], "as": ["r", "val"]}],
 "mark": {"type": "text", "fontSize": 10.5},
 "encoding": {"x": {"field": "col", "type": "nominal"}, "y": {"field": "r", "type": "nominal"}, "text": {"field": "val", "type": "quantitative", "format": ","},
  "color": {"condition": [{"test": "datum.col == 'S' && datum.r == 'pc'", "value": "#222"}, {"test": "datum.col == 'S'", "value": "#e8506e"}, {"test": "datum.r == 'pc'", "value": "#6a6af0"}, {"test": "datum.ok", "value": "#222"}], "value": "#ff2b2b"}}}
]
}
]
}
